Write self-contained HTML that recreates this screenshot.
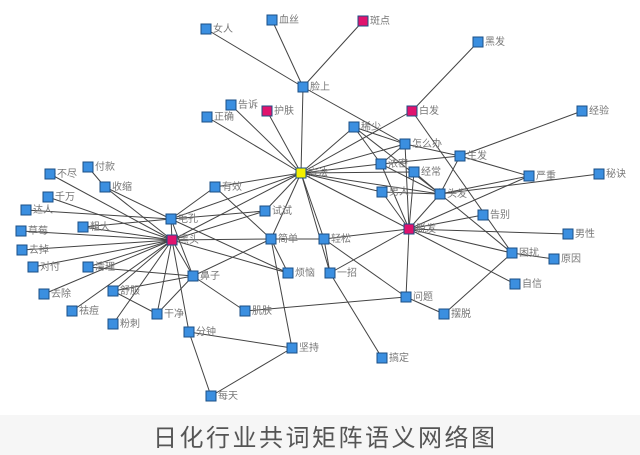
<!DOCTYPE html>
<html><head><meta charset="utf-8"><style>
html,body{margin:0;padding:0;background:#fff;}
svg{display:block}
text{font-family:"Liberation Sans","Noto Sans CJK SC",sans-serif;}
</style></head><body>
<svg width="640" height="455" viewBox="0 0 640 455" xmlns="http://www.w3.org/2000/svg">
<defs><marker id="a" markerWidth="6" markerHeight="6" refX="5" refY="3" orient="auto"><path d="M0,0L6,3L0,6z" fill="#222"/></marker></defs>
<rect x="0" y="0" width="640" height="415" fill="#fff"/>
<rect x="0" y="415" width="640" height="40" fill="#f6f6f6"/>
<g stroke="#444" stroke-width="1" fill="none" marker-end="url(#a)">
<!-- 脸上 -->
<line x1="303" y1="87" x2="206" y2="29"/><line x1="303" y1="87" x2="272" y2="20"/><line x1="303" y1="87" x2="363" y2="21"/>
<line x1="303" y1="87" x2="301" y2="173"/><line x1="303" y1="87" x2="405" y2="144"/>
<!-- 方法 -->
<line x1="231" y1="105" x2="301" y2="173"/><line x1="207" y1="117" x2="301" y2="173"/><line x1="267" y1="111" x2="301" y2="173"/>
<line x1="354" y1="127" x2="301" y2="173"/><line x1="412" y1="111" x2="301" y2="173"/><line x1="405" y1="144" x2="301" y2="173"/>
<line x1="381" y1="164" x2="301" y2="173"/><line x1="414" y1="172" x2="301" y2="173"/><line x1="382" y1="192" x2="301" y2="173"/>
<line x1="440" y1="194" x2="301" y2="173"/><line x1="409" y1="229" x2="301" y2="173"/><line x1="215" y1="187" x2="301" y2="173"/>
<line x1="171" y1="219" x2="301" y2="173"/><line x1="172" y1="240" x2="301" y2="173"/><line x1="265" y1="211" x2="301" y2="173"/>
<line x1="271" y1="239" x2="301" y2="173"/><line x1="324" y1="239" x2="301" y2="173"/><line x1="330" y1="273" x2="301" y2="173"/>
<!-- 白发 稀少 怎么办 生发 -->
<line x1="412" y1="111" x2="478" y2="42"/><line x1="512" y1="253" x2="412" y2="111"/>
<line x1="354" y1="127" x2="381" y2="164"/><line x1="354" y1="127" x2="440" y2="194"/><line x1="354" y1="127" x2="405" y2="144"/>
<line x1="460" y1="156" x2="405" y2="144"/><line x1="405" y1="144" x2="381" y2="164"/><line x1="409" y1="229" x2="405" y2="144"/>
<line x1="460" y1="156" x2="582" y2="111"/><line x1="460" y1="156" x2="529" y2="176"/><line x1="460" y1="156" x2="440" y2="194"/><line x1="460" y1="156" x2="381" y2="164"/>
<!-- 头发 -->
<line x1="440" y1="194" x2="599" y2="174"/><line x1="440" y1="194" x2="529" y2="176"/><line x1="512" y1="253" x2="440" y2="194"/>
<line x1="440" y1="194" x2="381" y2="164"/><line x1="382" y1="192" x2="440" y2="194"/><line x1="414" y1="172" x2="440" y2="194"/>
<!-- 脱发 -->
<line x1="409" y1="229" x2="529" y2="176"/><line x1="409" y1="229" x2="483" y2="215"/><line x1="409" y1="229" x2="568" y2="234"/>
<line x1="409" y1="229" x2="512" y2="253"/><line x1="409" y1="229" x2="515" y2="284"/><line x1="409" y1="229" x2="406" y2="297"/>
<line x1="324" y1="239" x2="409" y2="229"/><line x1="330" y1="273" x2="409" y2="229"/><line x1="382" y1="192" x2="409" y2="229"/>
<line x1="414" y1="172" x2="409" y2="229"/><line x1="381" y1="164" x2="409" y2="229"/><line x1="409" y1="229" x2="440" y2="194"/>
<line x1="512" y1="253" x2="554" y2="259"/><line x1="512" y1="253" x2="444" y2="314"/><line x1="406" y1="297" x2="444" y2="314"/>
<line x1="406" y1="297" x2="324" y2="239"/><line x1="330" y1="273" x2="382" y2="358"/><line x1="330" y1="273" x2="324" y2="239"/>
<line x1="245" y1="311" x2="406" y2="297"/>
<!-- 黑头 -->
<line x1="172" y1="240" x2="50" y2="174"/><line x1="105" y1="187" x2="88" y2="167"/><line x1="172" y1="240" x2="105" y2="187"/>
<line x1="171" y1="219" x2="105" y2="187"/><line x1="172" y1="240" x2="48" y2="197"/><line x1="26" y1="210" x2="171" y2="219"/>
<line x1="172" y1="240" x2="83" y2="227"/><line x1="171" y1="219" x2="83" y2="227"/><line x1="21" y1="231" x2="172" y2="240"/>
<line x1="22" y1="250" x2="172" y2="240"/><line x1="33" y1="267" x2="172" y2="240"/><line x1="88" y1="267" x2="172" y2="240"/>
<line x1="88" y1="267" x2="193" y2="276"/><line x1="44" y1="294" x2="172" y2="240"/><line x1="72" y1="311" x2="172" y2="240"/>
<line x1="113" y1="324" x2="172" y2="240"/><line x1="172" y1="240" x2="157" y2="314"/><line x1="172" y1="240" x2="113" y2="291"/>
<line x1="172" y1="240" x2="193" y2="276"/><line x1="172" y1="240" x2="189" y2="332"/><line x1="172" y1="240" x2="171" y2="219"/>
<line x1="172" y1="240" x2="271" y2="239"/><line x1="172" y1="240" x2="288" y2="273"/><line x1="172" y1="240" x2="265" y2="211"/>
<line x1="171" y1="219" x2="265" y2="211"/><line x1="171" y1="219" x2="193" y2="276"/><line x1="171" y1="219" x2="288" y2="273"/>
<line x1="215" y1="187" x2="171" y2="219"/><line x1="215" y1="187" x2="271" y2="239"/>
<line x1="157" y1="314" x2="113" y2="291"/><line x1="157" y1="314" x2="193" y2="276"/><line x1="113" y1="291" x2="193" y2="276"/>
<line x1="193" y1="276" x2="245" y2="311"/><line x1="193" y1="276" x2="271" y2="239"/>
<line x1="292" y1="348" x2="189" y2="332"/><line x1="211" y1="396" x2="189" y2="332"/><line x1="211" y1="396" x2="292" y2="348"/>
<line x1="271" y1="239" x2="292" y2="348"/><line x1="271" y1="239" x2="324" y2="239"/><line x1="271" y1="239" x2="288" y2="273"/>
</g>
<g stroke="#1b4f86" stroke-width="1">
<g fill="#3b8fe0">
<rect x="201" y="24" width="10" height="10"/><rect x="267" y="15" width="10" height="10"/><rect x="298" y="82" width="10" height="10"/>
<rect x="226" y="100" width="10" height="10"/><rect x="202" y="112" width="10" height="10"/><rect x="473" y="37" width="10" height="10"/>
<rect x="349" y="122" width="10" height="10"/><rect x="400" y="139" width="10" height="10"/><rect x="455" y="151" width="10" height="10"/>
<rect x="376" y="159" width="10" height="10"/><rect x="409" y="167" width="10" height="10"/><rect x="210" y="182" width="10" height="10"/>
<rect x="377" y="187" width="10" height="10"/><rect x="435" y="189" width="10" height="10"/><rect x="577" y="106" width="10" height="10"/>
<rect x="524" y="171" width="10" height="10"/><rect x="594" y="169" width="10" height="10"/><rect x="478" y="210" width="10" height="10"/>
<rect x="563" y="229" width="10" height="10"/><rect x="319" y="234" width="10" height="10"/><rect x="507" y="248" width="10" height="10"/>
<rect x="549" y="254" width="10" height="10"/><rect x="325" y="268" width="10" height="10"/><rect x="510" y="279" width="10" height="10"/>
<rect x="401" y="292" width="10" height="10"/><rect x="439" y="309" width="10" height="10"/><rect x="377" y="353" width="10" height="10"/>
<rect x="45" y="169" width="10" height="10"/><rect x="83" y="162" width="10" height="10"/><rect x="100" y="182" width="10" height="10"/>
<rect x="43" y="192" width="10" height="10"/><rect x="21" y="205" width="10" height="10"/><rect x="166" y="214" width="10" height="10"/>
<rect x="78" y="222" width="10" height="10"/><rect x="16" y="226" width="10" height="10"/><rect x="17" y="245" width="10" height="10"/>
<rect x="260" y="206" width="10" height="10"/><rect x="266" y="234" width="10" height="10"/><rect x="28" y="262" width="10" height="10"/>
<rect x="83" y="262" width="10" height="10"/><rect x="188" y="271" width="10" height="10"/><rect x="283" y="268" width="10" height="10"/>
<rect x="39" y="289" width="10" height="10"/><rect x="108" y="286" width="10" height="10"/><rect x="240" y="306" width="10" height="10"/>
<rect x="152" y="309" width="10" height="10"/><rect x="67" y="306" width="10" height="10"/><rect x="108" y="319" width="10" height="10"/>
<rect x="184" y="327" width="10" height="10"/><rect x="287" y="343" width="10" height="10"/><rect x="206" y="391" width="10" height="10"/>
</g>
<g fill="#e0136e">
<rect x="358" y="16" width="10" height="10"/><rect x="262" y="106" width="10" height="10"/><rect x="407" y="106" width="10" height="10"/>
<rect x="404" y="224" width="10" height="10"/><rect x="167" y="235" width="10" height="10"/>
</g>
<rect x="296" y="168" width="10" height="10" fill="#f5f000"/>
</g>
<g font-size="10" fill="#777">
<text x="213" y="32">女人</text><text x="279" y="23">血丝</text><text x="370" y="24">斑点</text><text x="310" y="90">脸上</text>
<text x="238" y="108">告诉</text><text x="274" y="114">护肤</text><text x="214" y="120">正确</text><text x="419" y="114">白发</text>
<text x="485" y="45">黑发</text><text x="361" y="130">稀少</text><text x="412" y="147">怎么办</text><text x="467" y="159">生发</text>
<text x="388" y="167">浓密</text><text x="421" y="175">经常</text><text x="308" y="176">方法</text><text x="222" y="190">有效</text>
<text x="389" y="195">男人</text><text x="447" y="197">头发</text><text x="589" y="114">经验</text><text x="536" y="179">严重</text>
<text x="606" y="177">秘诀</text><text x="490" y="218">告别</text><text x="416" y="232">脱发</text><text x="575" y="237">男性</text>
<text x="331" y="242">轻松</text><text x="519" y="256">困扰</text><text x="561" y="262">原因</text><text x="337" y="276">一招</text>
<text x="522" y="287">自信</text><text x="413" y="300">问题</text><text x="451" y="317">摆脱</text><text x="389" y="361">搞定</text>
<text x="57" y="177">不尽</text><text x="95" y="170">付款</text><text x="112" y="190">收缩</text><text x="55" y="200">千万</text>
<text x="33" y="213">达人</text><text x="178" y="222">毛孔</text><text x="90" y="230">粗大</text><text x="28" y="234">草莓</text>
<text x="179" y="243">黑头</text><text x="29" y="253">去掉</text><text x="272" y="214">试试</text><text x="278" y="242">简单</text>
<text x="40" y="270">对付</text><text x="95" y="270">清理</text><text x="200" y="279">鼻子</text><text x="295" y="276">烦恼</text>
<text x="51" y="297">去除</text><text x="120" y="294">舒服</text><text x="252" y="314">肌肤</text><text x="164" y="317">干净</text>
<text x="79" y="314">祛痘</text><text x="120" y="327">粉刺</text><text x="196" y="335">分钟</text><text x="299" y="351">坚持</text>
<text x="218" y="399">每天</text>
</g>
<text x="153" y="446" font-size="24" fill="#555" letter-spacing="2.5">日化行业共词矩阵语义网络图</text>
</svg>
</body></html>
